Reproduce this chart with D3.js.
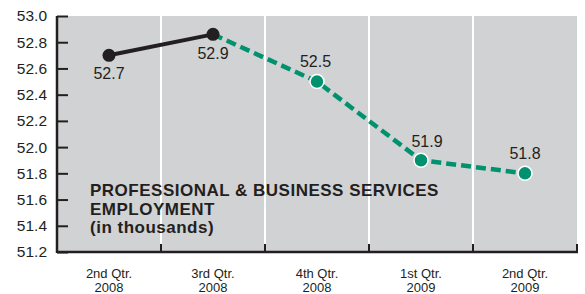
<!DOCTYPE html>
<html>
<head>
<meta charset="utf-8">
<script src="https://cdn.jsdelivr.net/npm/d3@7"></script>
<style>
  body { margin: 0; background: #fff; }
  svg { display: block; font-family: "Liberation Sans", Arial, sans-serif; }
</style>
</head>
<body>
<div id="container"></div>
<script>
const quarters = ["2nd Qtr.|2008", "3rd Qtr.|2008", "4th Qtr.|2008", "1st Qtr.|2009", "2nd Qtr.|2009"];
const values = [52.7, 52.86, 52.5, 51.9, 51.8];
const labels = ["52.7", "52.9", "52.5", "51.9", "51.8"];
const yTicks = [51.2, 51.4, 51.6, 51.8, 52.0, 52.2, 52.4, 52.6, 52.8, 53.0];
const titleLines = ["PROFESSIONAL & BUSINESS SERVICES", "EMPLOYMENT", "(in thousands)"];

const width = 585, height = 294;
const margin = {top: 16, right: 8, bottom: 42, left: 57};

const x = d3.scaleBand()
    .domain(quarters)
    .range([margin.left, width - margin.right]);

const y = d3.scaleLinear()
    .domain([51.2, 53.0])
    .range([height - margin.bottom, margin.top]);

const svg = d3.create("svg")
    .attr("width", width)
    .attr("height", height);

// grey panel
svg.append("rect")
    .attr("x", margin.left)
    .attr("y", margin.top)
    .attr("width", width - margin.right - margin.left)
    .attr("height", height - margin.bottom - margin.top)
    .attr("fill", "#d1d2d4");

// white dividers between quarters
svg.append("g")
    .selectAll("line")
    .data(quarters.slice(1))
    .join("line")
    .attr("x1", d => x(d))
    .attr("x2", d => x(d))
    .attr("y1", margin.top)
    .attr("y2", height - margin.bottom)
    .attr("stroke", "#fff")
    .attr("stroke-width", 2);

// y axis, ticks pointing inward
const yAxis = svg.append("g")
    .attr("transform", `translate(${margin.left},0)`)
    .call(d3.axisRight(y).tickValues(yTicks).tickSize(11).tickFormat(d3.format(".1f")));
yAxis.select(".domain").remove();
yAxis.selectAll(".tick line").attr("stroke", "#231f20").attr("stroke-width", 2);
yAxis.selectAll(".tick text")
    .attr("x", -10)
    .attr("text-anchor", "end")
    .attr("fill", "#231f20")
    .style("font-size", "15.5px");
svg.append("line")
    .attr("x1", margin.left).attr("x2", margin.left)
    .attr("y1", margin.top).attr("y2", height - margin.bottom + 1)
    .attr("stroke", "#231f20").attr("stroke-width", 2.5);

// x axis
const bottom = height - margin.bottom;
svg.append("line")
    .attr("x1", margin.left).attr("x2", width - margin.right + 1)
    .attr("y1", bottom).attr("y2", bottom)
    .attr("stroke", "#231f20").attr("stroke-width", 2.5);
svg.append("g")
    .selectAll("line")
    .data(quarters.slice(1).map(d => x(d)).concat([width - margin.right]))
    .join("line")
    .attr("x1", d => d).attr("x2", d => d)
    .attr("y1", bottom - 8).attr("y2", bottom)
    .attr("stroke", "#231f20").attr("stroke-width", 2);

const xl = svg.append("g")
    .selectAll("text")
    .data(quarters)
    .join("text")
    .attr("x", d => x(d) + x.bandwidth() / 2)
    .attr("y", bottom + 26)
    .attr("text-anchor", "middle")
    .attr("fill", "#231f20")
    .style("font-size", "13px");
xl.selectAll("tspan")
    .data(d => d.split("|"))
    .join("tspan")
    .attr("x", function () { return this.parentNode.getAttribute("x"); })
    .attr("dy", (d, i) => i ? 14 : 0)
    .text(d => d);

const cx = i => x(quarters[i]) + x.bandwidth() / 2;
const line = d3.line().x(d => d[0]).y(d => y(d[1]));
const pts = values.map((v, i) => [cx(i), v]);

// actual (solid black)
svg.append("path")
    .attr("d", line(pts.slice(0, 2)))
    .attr("fill", "none")
    .attr("stroke", "#231f20")
    .attr("stroke-width", 4);

// projected (dashed green)
svg.append("path")
    .attr("d", line(pts.slice(1)))
    .attr("fill", "none")
    .attr("stroke", "#00926e")
    .attr("stroke-width", 4.5)
    .attr("stroke-dasharray", "10,5");

svg.append("g")
    .selectAll("circle")
    .data(pts)
    .join("circle")
    .attr("cx", d => d[0])
    .attr("cy", d => y(d[1]))
    .attr("r", (d, i) => i < 2 ? 6.5 : 7)
    .attr("fill", (d, i) => i < 2 ? "#231f20" : "#00926e")
    .attr("stroke", (d, i) => i < 2 ? "none" : "#fff")
    .attr("stroke-width", 1.5);

// value labels
const labelOffset = [[0, 24], [0, 25], [-1.5, -15], [6, -13], [0, -14]];
svg.append("g")
    .selectAll("text")
    .data(labels)
    .join("text")
    .attr("x", (d, i) => cx(i) + labelOffset[i][0])
    .attr("y", (d, i) => y(values[i]) + labelOffset[i][1])
    .attr("text-anchor", "middle")
    .attr("fill", "#231f20")
    .style("font-size", "16px")
    .text(d => d);

// title
svg.append("g")
    .selectAll("text")
    .data(titleLines)
    .join("text")
    .attr("x", 90)
    .attr("y", (d, i) => 196 + i * 18.5)
    .attr("fill", "#231f20")
    .style("font-size", "17px")
    .style("font-weight", "bold")
    .style("letter-spacing", "0.5px")
    .text(d => d);

d3.select("#container").append(() => svg.node());
</script>
</body>
</html>
